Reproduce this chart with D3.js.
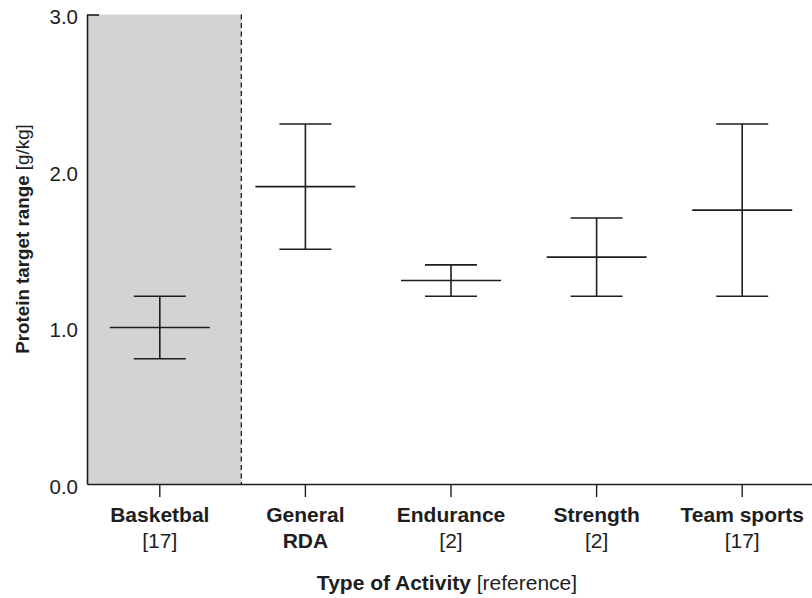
<!DOCTYPE html>
<html>
<head>
<meta charset="utf-8">
<script src="https://cdn.jsdelivr.net/npm/d3@7/dist/d3.min.js"></script>
<style>
  html, body { margin: 0; padding: 0; background: #fff; }
  svg { display: block; font-family: "Liberation Sans", Arial, Helvetica, sans-serif; }
</style>
</head>
<body>
<svg id="chart" width="812" height="598"></svg>
<script>
// Activity groups and their references
const categories = ["Basketbal", "General RDA", "Endurance", "Strength", "Team sports"];
const labelLine1 = ["Basketbal", "General", "Endurance", "Strength", "Team sports"];
const labelLine2 = ["[17]", "RDA", "[2]", "[2]", "[17]"];
const line2Bold  = [false, true, false, false, false];

// Protein target ranges in g/kg: central value, lower and upper limit
const midValues  = [1.0, 1.9, 1.3, 1.45, 1.75];
const lowValues  = [0.8, 1.5, 1.2, 1.2, 1.2];
const highValues = [1.2, 2.3, 1.4, 1.7, 2.3];

const yTicks = [0, 1, 2, 3];
const yTickLabels = ["0.0", "1.0", "2.0", "3.0"];
const highlighted = "Basketbal";

const svg = d3.select("#chart");
const plotLeft = 87, plotRight = 815, plotTop = 14.5, plotBottom = 484;
const ink = "#1e1e1e";

const x = d3.scaleBand().domain(categories).range([plotLeft, plotRight]).padding(0);
const y = d3.scaleLinear().domain([0, 3]).range([plotBottom, plotTop]);
const cx = c => x(c) + x.bandwidth() / 2;

// shaded panel behind the highlighted group, bounded by a dashed line
const shadeRight = cx(highlighted) + x.bandwidth() * 0.56;
svg.append("rect")
  .attr("x", plotLeft).attr("y", y(3))
  .attr("width", shadeRight - plotLeft).attr("height", y(0) - y(3))
  .attr("fill", "#d3d3d5");
svg.append("line")
  .attr("x1", shadeRight).attr("x2", shadeRight)
  .attr("y1", y(3)).attr("y2", y(0))
  .attr("stroke", ink).attr("stroke-width", 1.3)
  .attr("stroke-dasharray", "5,3.5");

// y axis: plain line, labels only, a short inward tick at the top
const yAxis = svg.append("g")
  .attr("transform", `translate(${plotLeft},0)`)
  .call(d3.axisLeft(y).tickValues(yTicks).tickSize(0).tickPadding(9)
    .tickFormat((d, i) => yTickLabels[i]));
yAxis.attr("font-family", null);
yAxis.select(".domain").attr("stroke", ink).attr("stroke-width", 1.6);
yAxis.selectAll(".tick text")
  .attr("fill", ink).attr("font-size", 20.5)
  .attr("dy", "0.45em");
yAxis.selectAll(".tick").filter(d => d === 3).append("line")
  .attr("x1", 0).attr("x2", 12)
  .attr("stroke", ink).attr("stroke-width", 1.6);

// x axis with downward ticks at each group centre
const xAxis = svg.append("g")
  .attr("transform", `translate(0,${plotBottom})`)
  .call(d3.axisBottom(x).tickSizeInner(13).tickSizeOuter(0).tickFormat(""));
xAxis.select(".domain").attr("stroke", ink).attr("stroke-width", 1.6);
xAxis.selectAll(".tick line").attr("stroke", ink).attr("stroke-width", 1.4);

// two-line category labels
const labels = svg.append("g").attr("fill", ink).attr("text-anchor", "middle").attr("font-size", 21);
categories.forEach((c, i) => {
  labels.append("text")
    .attr("x", cx(c)).attr("y", 521.5)
    .attr("font-weight", "bold")
    .text(labelLine1[i]);
  labels.append("text")
    .attr("x", cx(c)).attr("y", 547.5)
    .attr("font-weight", line2Bold[i] ? "bold" : "normal")
    .text(labelLine2[i]);
});

// axis titles
const xTitle = svg.append("text")
  .attr("x", 447).attr("y", 589.5)
  .attr("text-anchor", "middle").attr("font-size", 21).attr("fill", ink);
xTitle.append("tspan").attr("font-weight", "bold").text("Type of Activity");
xTitle.append("tspan").text(" [reference]");

const yTitle = svg.append("text")
  .attr("transform", "translate(28.5,239) rotate(-90)")
  .attr("text-anchor", "middle").attr("font-size", 18.8).attr("fill", ink);
yTitle.append("tspan").attr("font-weight", "bold").text("Protein target range");
yTitle.append("tspan").text(" [g/kg]");

// range bars: vertical span, end caps and a wider central marker
const capHalf = 26, midHalf = 50;
const bars = svg.append("g").attr("stroke", ink).attr("stroke-width", 1.6);
categories.forEach((c, i) => {
  const xc = cx(c);
  bars.append("line").attr("x1", xc).attr("x2", xc)
    .attr("y1", y(lowValues[i])).attr("y2", y(highValues[i]));
  bars.append("line").attr("x1", xc - capHalf).attr("x2", xc + capHalf)
    .attr("y1", y(highValues[i])).attr("y2", y(highValues[i]));
  bars.append("line").attr("x1", xc - capHalf).attr("x2", xc + capHalf)
    .attr("y1", y(lowValues[i])).attr("y2", y(lowValues[i]));
  bars.append("line").attr("x1", xc - midHalf).attr("x2", xc + midHalf)
    .attr("y1", y(midValues[i])).attr("y2", y(midValues[i]));
});
</script>
</body>
</html>
